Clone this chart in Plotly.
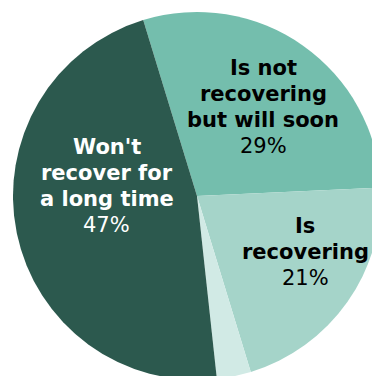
import plotly.graph_objects as go

# Survey shares, in clockwise order starting at the top boundary
labels = ["Is not recovering but will soon", "Is recovering", "Don't know", "Won't recover for a long time"]
label_lines = [["Is not", "recovering", "but will soon"], ["Is", "recovering"], [], ["Won't", "recover for", "a long time"]]
values = [29, 21, 3, 47]
colors = ["#74BEAD", "#A5D4C9", "#D1EAE5", "#2C594E"]
text_colors = ["#000000", "#000000", "#000000", "#FFFFFF"]

W, H = 394, 392
cx, cy, r = 197, 196, 184
LINE = 26  # line pitch in pixels

fig = go.Figure(
    go.Pie(
        labels=labels,
        values=values,
        sort=False,
        direction="clockwise",
        rotation=-17,
        marker=dict(colors=colors, line=dict(width=0)),
        textinfo="none",
        hoverinfo="label+percent",
        domain=dict(x=[(cx - r) / W, (cx + r) / W], y=[1 - (cy + r) / H, 1 - (cy - r) / H]),
        showlegend=False,
    )
)

# Centre of the first text line for each labelled slice (pixels from top-left)
label_pos = {0: (263, 68), 1: (305, 226), 3: (107, 147)}
for i, (px, py) in label_pos.items():
    lines = [(f"<b>{ln}</b>", 21) for ln in label_lines[i]] + [(f"{values[i]}%", 21)]
    for k, (txt, size) in enumerate(lines):
        fig.add_annotation(
            x=px / W, y=1 - (py + k * LINE) / H, xref="paper", yref="paper",
            text=txt, showarrow=False, align="center",
            xanchor="center", yanchor="middle",
            font=dict(family="DejaVu Sans", size=size, color=text_colors[i]),
        )

fig.update_layout(
    width=W, height=H,
    margin=dict(l=0, r=0, t=0, b=0),
    paper_bgcolor="white",
    plot_bgcolor="white",
)

fig.write_html(
    "out.html",
    post_script="document.body.style.margin='0';document.body.style.overflow='hidden';document.documentElement.style.overflow='hidden';",
)
